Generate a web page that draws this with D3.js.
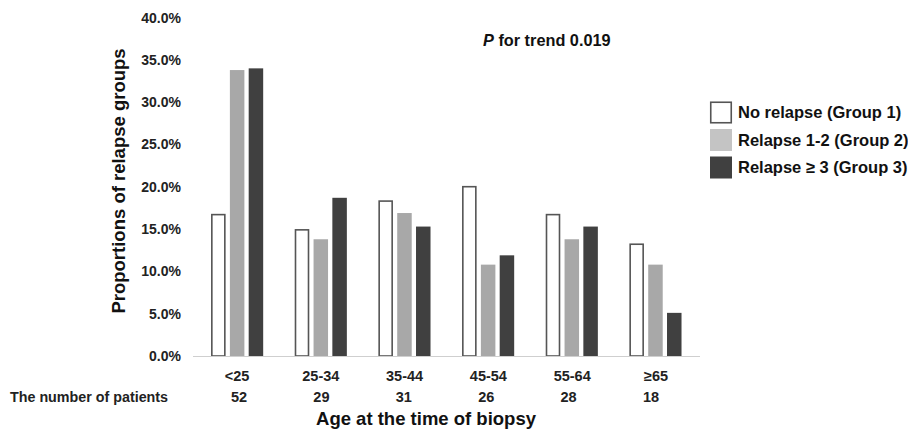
<!DOCTYPE html>
<html><head><meta charset="utf-8">
<script src="https://cdn.jsdelivr.net/npm/d3@7"></script>
<style>body{margin:0;background:#fff}svg{display:block;font-family:"Liberation Sans",Arial,sans-serif;font-weight:bold}</style>
</head><body><svg id="c" width="908" height="430"></svg>
<script>
const categories = ["<25","25-34","35-44","45-54","55-64","≥65"];
const patients = [52,29,31,26,28,18];
const seriesNames = ["No relapse (Group 1)","Relapse 1-2 (Group 2)","Relapse ≥ 3 (Group 3)"];
const group1 = [16.8,15.0,18.4,20.1,16.8,13.3];
const group2 = [33.8,13.8,16.9,10.8,13.8,10.8];
const group3 = [34.0,18.7,15.3,11.9,15.3,5.1];
const yTicks = [0,5,10,15,20,25,30,35,40];

const series = [group1, group2, group3];
const fills = ["#ffffff","#a8a8a8","#404040"];
const legendFills = ["#ffffff","#c4c4c4","#404040"];
const strokes = ["#555555","none","none"];

const svg = d3.select("#c");
const x = d3.scaleBand().domain(categories).range([195.3,697.3]).paddingInner(0).paddingOuter(0);
const xLab = d3.scalePoint().domain(categories).range([237,656]);
const xNum = d3.scalePoint().domain(categories).range([239,651]);
const y = d3.scaleLinear().domain([0,40]).range([356,17.6]);
const barW = 14.5, step = 18.8;

// y tick labels
svg.append("g").selectAll("text").data(yTicks).join("text")
  .attr("x",181).attr("y",d=>y(d)).attr("dy","0.35em")
  .attr("text-anchor","end").attr("font-size",14).attr("fill","#222")
  .text(d=>d.toFixed(1)+"%");

// bars
series.forEach((vals,si)=>{
  svg.append("g").selectAll("rect").data(vals).join("rect")
    .attr("x",(d,i)=>x(categories[i])+x.bandwidth()/2+(si-1)*step-barW/2 + (si===0?0.75:0))
    .attr("width",si===0?barW-1.5:barW)
    .attr("y",d=>y(d)+(si===0?0.75:0))
    .attr("height",d=>y(0)-y(d)-(si===0?0.75:0))
    .attr("fill",fills[si]).attr("stroke",strokes[si]).attr("stroke-width",1.6);
});

// baseline
svg.append("line").attr("x1",193).attr("x2",700).attr("y1",y(0)+0.5).attr("y2",y(0)+0.5)
  .attr("stroke","#cfcfcf").attr("stroke-width",1.2);

// category labels
svg.append("g").selectAll("text").data(categories).join("text")
  .attr("x",d=>xLab(d)).attr("y",376).attr("dy","0.35em")
  .attr("text-anchor","middle").attr("font-size",14.5).attr("fill","#222").text(d=>d);
svg.append("g").selectAll("text").data(patients).join("text")
  .attr("x",(d,i)=>xNum(categories[i])).attr("y",397).attr("dy","0.35em")
  .attr("text-anchor","middle").attr("font-size",14.5).attr("fill","#222").text(d=>d);
svg.append("text").attr("x",10).attr("y",397).attr("dy","0.35em")
  .attr("font-size",14.3).attr("fill","#222").text("The number of patients");

// axis titles
svg.append("text").attr("x",426).attr("y",419).attr("dy","0.35em").attr("text-anchor","middle")
  .attr("font-size",18.5).attr("fill","#111").text("Age at the time of biopsy");
svg.append("text").attr("transform","translate(119,181) rotate(-90)").attr("dy","0.35em")
  .attr("text-anchor","middle").attr("font-size",18.5).attr("fill","#111").text("Proportions of relapse groups");

// P for trend
const pt = svg.append("text").attr("x",483).attr("y",40).attr("dy","0.35em")
  .attr("font-size",16.3).attr("fill","#111");
pt.append("tspan").attr("font-style","italic").text("P");
pt.append("tspan").text(" for trend 0.019");

// legend
const lg = svg.append("g").selectAll("g").data(seriesNames).join("g")
  .attr("transform",(d,i)=>`translate(710,${101.5+i*27.5})`);
lg.append("rect").attr("x",(d,i)=>i===0?0.75:0).attr("y",(d,i)=>i===0?0.75:0)
  .attr("width",(d,i)=>i===0?20.5:22).attr("height",(d,i)=>i===0?20.5:22)
  .attr("fill",(d,i)=>legendFills[i])
  .attr("stroke",(d,i)=>strokes[i]).attr("stroke-width",1.6);
lg.append("text").attr("x",28).attr("y",11).attr("dy","0.35em")
  .attr("font-size",16.5).attr("fill","#111").text(d=>d);
</script></body></html>
